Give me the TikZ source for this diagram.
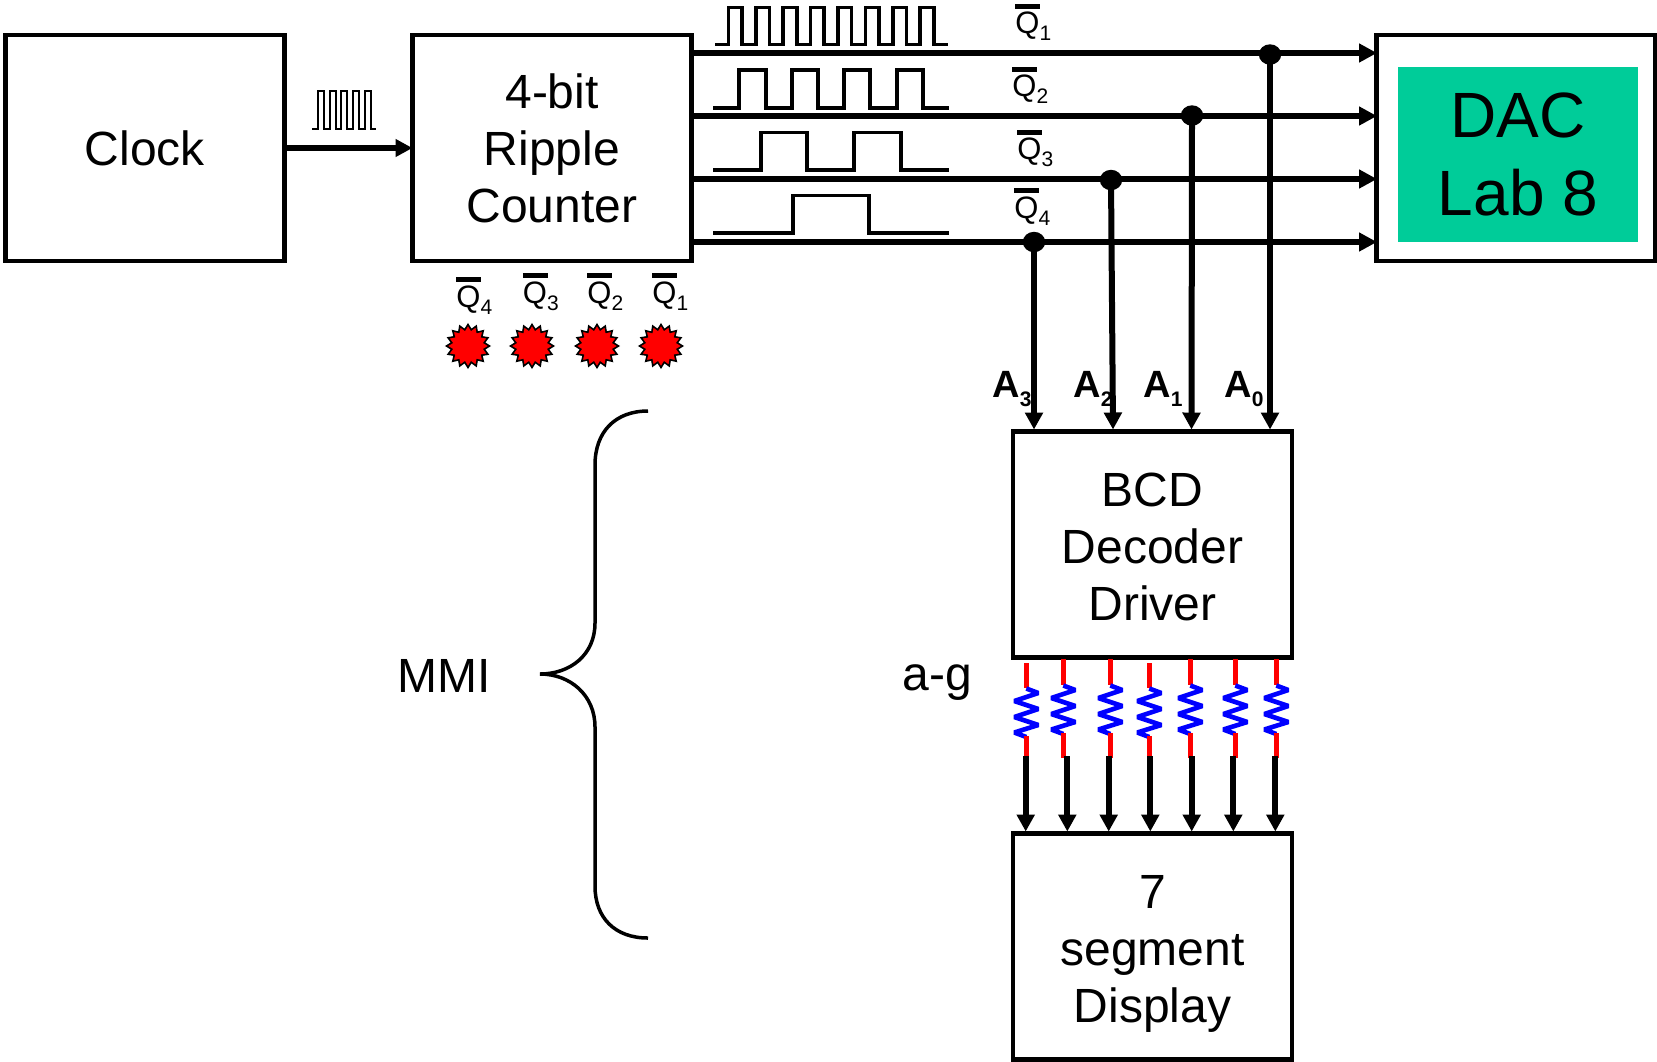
\documentclass[tikz,border=0pt]{standalone}
\usepackage{fontspec}
\setmainfont{Liberation Sans}
\usetikzlibrary{arrows.meta,shapes.geometric}
\definecolor{dacgreen}{RGB}{0,204,153}
\newcommand\qlab[1]{\rlap{\raisebox{12.3pt}{\rule{12.5pt}{2.5pt}}}Q\raisebox{-3.5pt}{\fontsize{10.5}{12}\selectfont #1}}
\newcommand\alab[1]{\textbf{A\raisebox{-4.5pt}{\fontsize{10.5}{12}\selectfont #1}}}
\tikzset{
  blockbox/.style={draw=black,line width=2.1pt,fill=white,outer sep=0pt,inner sep=0pt,
    minimum width=139.5pt,minimum height=113pt,align=center,font=\fontsize{24}{28.5}\selectfont},
  bus/.style={line width=2.8pt,-{Triangle[length=9pt,width=9pt]}},
  wave/.style={line width=1.8pt,line join=miter},
  dotnode/.style={ellipse,fill=black,minimum width=11.2pt,minimum height=10.2pt,inner sep=0pt,outer sep=0pt},
  lamp/.style={star,star points=16,star point ratio=1.3,draw=black,line width=.8pt,fill=red,
    minimum size=21.5pt,inner sep=0pt,outer sep=0pt},
  qtext/.style={anchor=base west,inner sep=0pt,font=\fontsize{15.5}{18}\selectfont},
  atext/.style={anchor=base west,inner sep=0pt,font=\fontsize{19}{20}\selectfont},
  plaintext/.style={inner sep=0pt,font=\fontsize{24}{28.5}\selectfont},
  redlead/.style={draw=red,line width=2.4pt},
  zig/.style={draw=blue,line width=2.3pt,line join=bevel},
  driveline/.style={line width=3pt,-{Triangle[length=8.5pt,width=8.7pt]}},
}
\newcommand\zigzag[2]{% centre x, top y
  \draw[zig] (#1,#2) -- ++(12,4.5) -- ++(-24,8) -- ++(24,8) -- ++(-24,8) -- ++(24,8) -- ++(-24,7.5) -- ++(12,4.5);}
\begin{document}
\begin{tikzpicture}[x=0.5pt,y=-0.5pt]
\useasboundingbox (0,0) rectangle (1657,1061);
% blocks
\node[blockbox] (clock) at (145,148) {Clock};
\node[blockbox] (counter) at (552,148) {4-bit\\Ripple\\Counter};
\node[blockbox] (dac) at (1516,148) {};
\node[fill=dacgreen,minimum width=120pt,minimum height=87.5pt,inner sep=0pt,outer sep=0pt,align=center,
  font=\fontsize{32}{39}\selectfont] (dacin) at (1518,154.5) {DAC\\Lab 8};
\node[blockbox] (bcd) at (1152.5,544.5) {\rule{0pt}{19.2pt}BCD\\Decoder\\Driver};
\node[blockbox] (seg) at (1152.5,946.5) {\rule{0pt}{24.2pt}7\\segment\\Display};
% clock pulse
\draw[line width=1pt] (312,129) -- (318,129) -- (318,91) -- (323.8,91) -- (323.8,129) -- (329.7,129) -- (329.7,91) -- (335.5,91) -- (335.5,129)
  -- (341.3,129) -- (341.3,91) -- (347.2,91) -- (347.2,129) -- (353,129) -- (353,91) -- (358.8,91) -- (358.8,129) -- (364.7,129) -- (364.7,91) -- (370.5,91) -- (370.5,129) -- (376,129);
\draw[line width=2.9pt,-{Triangle[length=8.5pt,width=8.5pt]}] (clock.east) -- (counter.west);
% waveforms
\draw[wave] (715,44.5)
  \foreach \k in {0,...,7}{ -- ({728.3+27.4*\k},44.5) -- ({728.3+27.4*\k},7.5) -- ({742+27.4*\k},7.5) -- ({742+27.4*\k},44.5) }
  -- (948,44.5);
\draw[wave] (713,108) -- (739,108) -- (739,70) -- (766,70) -- (766,108) -- (792,108) -- (792,70) -- (818,70) -- (818,108)
  -- (844,108) -- (844,70) -- (870,70) -- (870,108) -- (897,108) -- (897,70) -- (923,70) -- (923,108) -- (949,108);
\draw[wave] (713,170) -- (761,170) -- (761,132.5) -- (807,132.5) -- (807,170) -- (854,170) -- (854,132.5) -- (901,132.5) -- (901,170) -- (949,170);
\draw[wave] (713,233) -- (793,233) -- (793,195.5) -- (869,195.5) -- (869,233) -- (949,233);
% bus coordinates
\coordinate (q1s) at (692,53);  \coordinate (q1e) at (1377,53);
\coordinate (q2s) at (692,116); \coordinate (q2e) at (1377,116);
\coordinate (q3s) at (692,179); \coordinate (q3e) at (1377,179);
\coordinate (q4s) at (692,242); \coordinate (q4e) at (1377,242);
\draw[bus] (q1s) -- (q1e);
\draw[bus] (q2s) -- (q2e);
\draw[bus] (q3s) -- (q3e);
\draw[bus] (q4s) -- (q4e);
\node[dotnode] (d0) at (1270,54.5) {};
\node[dotnode] (d1) at (1192,115.5) {};
\node[dotnode] (d2) at (1111,180) {};
\node[dotnode] (d3) at (1034,242) {};
\coordinate (a0) at (1270,429.5);
\coordinate (a1) at (1191.5,429.5);
\coordinate (a2) at (1113,429.5);
\coordinate (a3) at (1034,429.5);
\draw[driveline] (d0.center) -- (a0);
\draw[driveline] (d1.center) -- (a1);
\draw[driveline] (d2.center) -- (a2);
\draw[driveline] (d3.center) -- (a3);
% bus labels
\node[qtext] (tq1) at (1015,33.5) {\qlab{1}};
\node[qtext] (tq2) at (1012,96.5) {\qlab{2}};
\node[qtext] (tq3) at (1017,159.5) {\qlab{3}};
\node[qtext] (tq4) at (1014,218) {\qlab{4}};
\node[qtext] (bq4) at (456,307) {\qlab{4}};
\node[qtext] (bq3) at (522.5,303) {\qlab{3}};
\node[qtext] (bq2) at (587,303) {\qlab{2}};
\node[qtext] (bq1) at (652,303) {\qlab{1}};
\node[lamp] (l4) at (468,346) {};
\node[lamp] (l3) at (532,346) {};
\node[lamp] (l2) at (597,346) {};
\node[lamp] (l1) at (661,346) {};
\node[atext] (ta3) at (992,397) {\alab{3}};
\node[atext] (ta2) at (1073,397) {\alab{2}};
\node[atext] (ta1) at (1143,397) {\alab{1}};
\node[atext] (ta0) at (1224,397) {\alab{0}};
% brace
\draw[line width=1.75pt] (648,411) .. controls (615,411) and (595,432) .. (595,465) -- (595,623)
  .. controls (595,655) and (570,674) .. (540,674) .. controls (570,674) and (595,695) .. (595,727)
  -- (595,886) .. controls (595,918) and (615,938) .. (648,938);
\node[plaintext] (mmi) at (444,676) {MMI};
\node[plaintext] (ag) at (937,683) {a-g};
% resistors
\draw[redlead] (1026.3,663) -- (1026.3,688);
\draw[redlead] (1149.3,663) -- (1149.3,688);
\foreach \x in {1063.3,1110.3,1190.3,1235.3,1276.3}{\draw[redlead] (\x,659) -- (\x,685);}
\zigzag{1026.3}{688.5}
\zigzag{1149.3}{688.5}
\foreach \x in {1063.3,1110.3,1190.3,1235.3,1276.3}{\zigzag{\x}{685.5}}
\draw[redlead] (1026.3,736) -- (1026.3,761);
\draw[redlead] (1149.3,736) -- (1149.3,761);
\foreach \x in {1063.3,1110.3,1190.3,1235.3,1276.3}{\draw[redlead] (\x,733) -- (\x,758);}
\foreach \x in {1025.7,1067.3,1108.7,1150.3,1191.7,1233.3,1275.3}{
  \draw[driveline] (\x,756) -- (\x,831.5);}
\end{tikzpicture}
\end{document}
